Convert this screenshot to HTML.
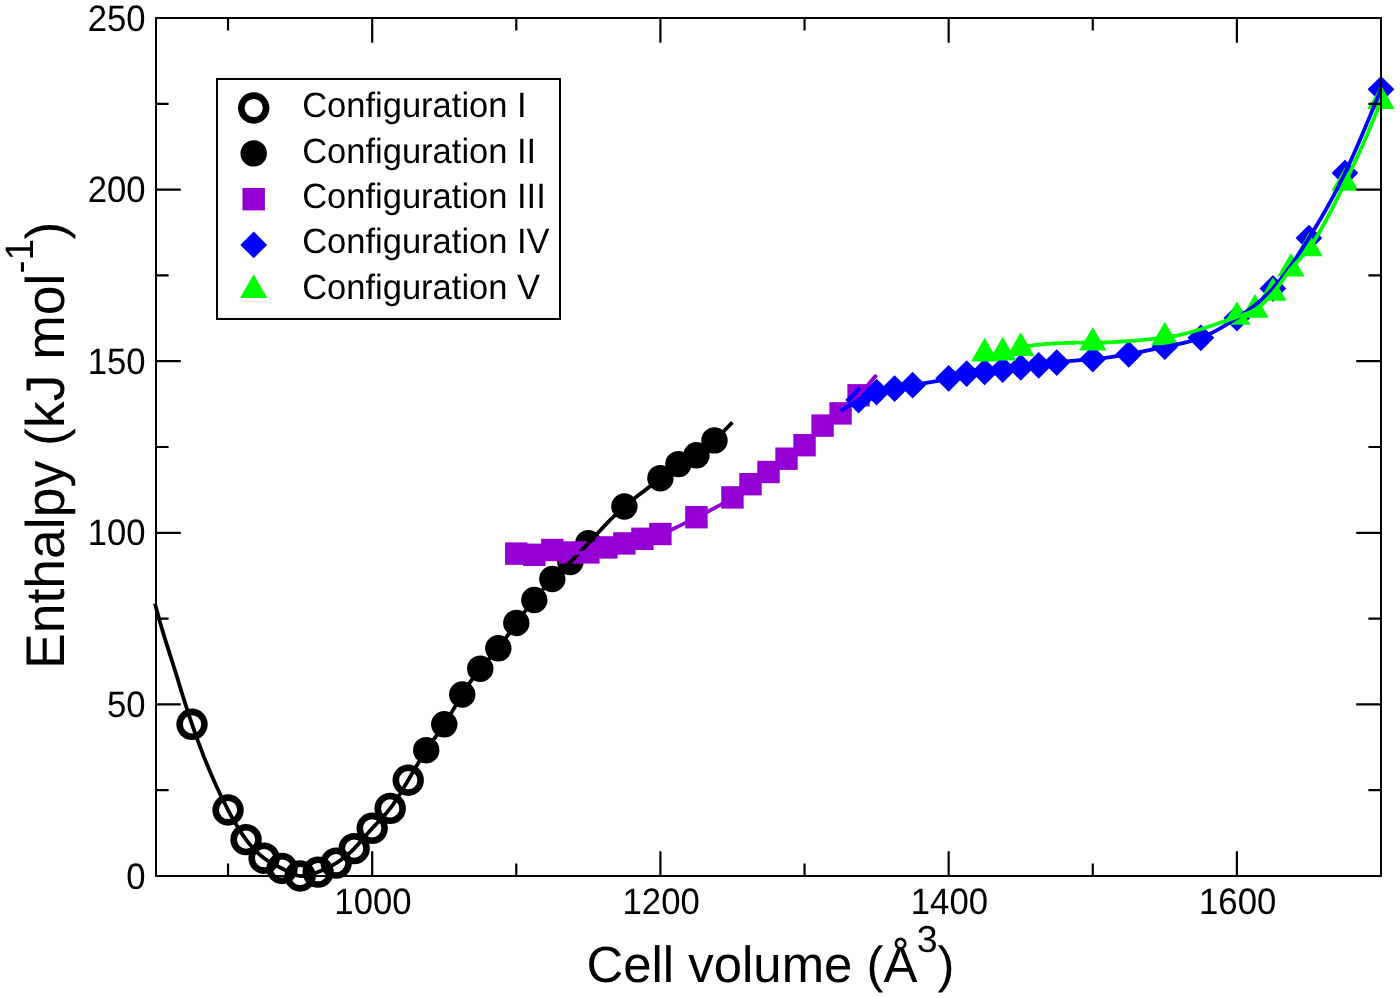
<!DOCTYPE html>
<html lang="en">
<head>
<meta charset="utf-8">
<title>Enthalpy vs cell volume</title>
<style>
html,body{margin:0;padding:0;background:#fff;}
body{width:1400px;height:998px;overflow:hidden;}
svg{display:block;will-change:transform;}
svg text{text-rendering:geometricPrecision;}
</style>
</head>
<body>
<svg width="1400" height="998" viewBox="0 0 1400 998" role="img" aria-label="Enthalpy versus cell volume for configurations I to V">
<rect width="1400" height="998" fill="#fff"/>
<g id="s1" fill="none" stroke="#000" stroke-width="6.6">
<circle cx="192.03" cy="724.3" r="12.4"/>
<circle cx="228.06" cy="810" r="12.4"/>
<circle cx="246.07" cy="839.6" r="12.4"/>
<circle cx="264.09" cy="858.2" r="12.4"/>
<circle cx="282.1" cy="868.5" r="12.4"/>
<circle cx="300.12" cy="876" r="12.4"/>
<circle cx="318.13" cy="872.1" r="12.4"/>
<circle cx="336.15" cy="863.1" r="12.4"/>
<circle cx="354.16" cy="848.6" r="12.4"/>
<circle cx="372.18" cy="828.3" r="12.4"/>
<circle cx="390.19" cy="808.4" r="12.4"/>
<circle cx="408.21" cy="780.2" r="12.4"/>
</g>
<g id="s2" fill="#000">
<circle cx="426.22" cy="750.2" r="13.2"/>
<circle cx="444.24" cy="724.3" r="13.2"/>
<circle cx="462.25" cy="694.5" r="13.2"/>
<circle cx="480.26" cy="668.7" r="13.2"/>
<circle cx="498.28" cy="648.3" r="13.2"/>
<circle cx="516.29" cy="623" r="13.2"/>
<circle cx="534.31" cy="600" r="13.2"/>
<circle cx="552.32" cy="579" r="13.2"/>
<circle cx="570.34" cy="562" r="13.2"/>
<circle cx="588.35" cy="543.2" r="13.2"/>
<circle cx="624.38" cy="506.5" r="13.2"/>
<circle cx="660.41" cy="478.2" r="13.2"/>
<circle cx="678.43" cy="464.1" r="13.2"/>
<circle cx="696.44" cy="455.3" r="13.2"/>
<circle cx="714.46" cy="440.4" r="13.2"/>
</g>
<g id="s3" fill="#9400d3">
<rect x="505.09" y="542.4" width="22.4" height="22.4"/>
<rect x="523.11" y="543.6" width="22.4" height="22.4"/>
<rect x="541.12" y="538.8" width="22.4" height="22.4"/>
<rect x="559.14" y="541.3" width="22.4" height="22.4"/>
<rect x="577.15" y="541.2" width="22.4" height="22.4"/>
<rect x="595.17" y="536.2" width="22.4" height="22.4"/>
<rect x="613.18" y="532.2" width="22.4" height="22.4"/>
<rect x="631.2" y="527.6" width="22.4" height="22.4"/>
<rect x="649.21" y="522.8" width="22.4" height="22.4"/>
<rect x="685.24" y="506" width="22.4" height="22.4"/>
<rect x="721.27" y="486.2" width="22.4" height="22.4"/>
<rect x="739.29" y="473" width="22.4" height="22.4"/>
<rect x="757.3" y="460.8" width="22.4" height="22.4"/>
<rect x="775.31" y="447.5" width="22.4" height="22.4"/>
<rect x="793.33" y="434" width="22.4" height="22.4"/>
<rect x="811.34" y="414.4" width="22.4" height="22.4"/>
<rect x="829.36" y="402.2" width="22.4" height="22.4"/>
<rect x="847.37" y="384.1" width="22.4" height="22.4"/>
</g>
<g id="s4" fill="#00f">
<path d="M845.17 400L858.57 386.6L871.97 400L858.57 413.4Z"/>
<path d="M863.19 392.1L876.59 378.7L889.99 392.1L876.59 405.5Z"/>
<path d="M881.2 388.6L894.6 375.2L908 388.6L894.6 402Z"/>
<path d="M899.22 385.2L912.62 371.8L926.02 385.2L912.62 398.6Z"/>
<path d="M935.25 378.3L948.65 364.9L962.05 378.3L948.65 391.7Z"/>
<path d="M953.26 373.6L966.66 360.2L980.06 373.6L966.66 387Z"/>
<path d="M971.28 371.9L984.68 358.5L998.08 371.9L984.68 385.3Z"/>
<path d="M989.29 369.6L1002.69 356.2L1016.09 369.6L1002.69 383Z"/>
<path d="M1007.31 367.4L1020.71 354L1034.11 367.4L1020.71 380.8Z"/>
<path d="M1025.32 365.3L1038.72 351.9L1052.12 365.3L1038.72 378.7Z"/>
<path d="M1043.34 362.6L1056.74 349.2L1070.14 362.6L1056.74 376Z"/>
<path d="M1079.36 359L1092.76 345.6L1106.16 359L1092.76 372.4Z"/>
<path d="M1115.39 354.3L1128.79 340.9L1142.19 354.3L1128.79 367.7Z"/>
<path d="M1151.42 346.7L1164.82 333.3L1178.22 346.7L1164.82 360.1Z"/>
<path d="M1187.45 337.8L1200.85 324.4L1214.25 337.8L1200.85 351.2Z"/>
<path d="M1223.48 318.1L1236.88 304.7L1250.28 318.1L1236.88 331.5Z"/>
<path d="M1259.51 288.5L1272.91 275.1L1286.31 288.5L1272.91 301.9Z"/>
<path d="M1295.54 238.1L1308.94 224.7L1322.34 238.1L1308.94 251.5Z"/>
<path d="M1331.57 173.1L1344.97 159.7L1358.37 173.1L1344.97 186.5Z"/>
<path d="M1367.6 89.3L1381 75.9L1394.4 89.3L1381 102.7Z"/>
</g>
<g id="s5" fill="#0f0">
<path d="M984.68 337.87L970.98 361.47L998.38 361.47Z"/>
<path d="M1002.69 336.87L988.99 360.47L1016.39 360.47Z"/>
<path d="M1020.71 332.37L1007.01 355.97L1034.41 355.97Z"/>
<path d="M1092.76 326.97L1079.06 350.57L1106.46 350.57Z"/>
<path d="M1164.82 321.77L1151.12 345.37L1178.52 345.37Z"/>
<path d="M1236.88 301.17L1223.18 324.77L1250.58 324.77Z"/>
<path d="M1254.9 294.07L1241.2 317.67L1268.6 317.67Z"/>
<path d="M1272.91 277.27L1259.21 300.87L1286.61 300.87Z"/>
<path d="M1290.93 252.97L1277.23 276.57L1304.63 276.57Z"/>
<path d="M1308.94 232.57L1295.24 256.17L1322.64 256.17Z"/>
<path d="M1344.97 167.17L1331.27 190.77L1358.67 190.77Z"/>
<path d="M1381 85.37L1367.3 108.97L1394.7 108.97Z"/>
</g>
<g id="fits" fill="none" stroke-width="3.8" stroke-linejoin="round">
<path stroke="#000" d="M154.9 603.6 L156.12 608.03 L157.33 612.45 L158.55 616.83 L159.77 621.16 L160.98 625.42 L162.2 629.6 L164.1 635.94 L166 642.09 L167.9 648.11 L169.8 654.06 L171.7 660.01 L173.6 666 L175.45 671.93 L177.3 677.92 L179.15 683.96 L181 689.99 L182.85 695.98 L184.7 701.9 L185.92 705.75 L187.14 709.56 L188.36 713.32 L189.59 717.03 L190.81 720.69 L192.03 724.3 L198.03 741.3 L204.04 757.12 L210.04 771.83 L216.05 785.5 L222.05 798.2 L228.06 810 L231.06 815.58 L234.06 820.93 L237.07 826.02 L240.07 830.85 L243.07 835.38 L246.07 839.6 L249.08 843.49 L252.08 847.05 L255.08 850.29 L258.08 853.22 L261.09 855.85 L264.09 858.2 L267.09 860.27 L270.09 862.13 L273.1 863.82 L276.1 865.4 L279.1 866.94 L282.1 868.5 L285.11 870.1 L288.11 871.69 L291.11 873.16 L294.11 874.44 L297.12 875.41 L300.12 876 L303.12 876.14 L306.12 875.86 L309.12 875.25 L312.13 874.37 L315.13 873.3 L318.13 872.1 L321.13 870.83 L324.14 869.49 L327.14 868.07 L330.14 866.54 L333.14 864.89 L336.15 863.1 L339.15 861.16 L342.15 859.05 L345.15 856.75 L348.16 854.25 L351.16 851.54 L354.16 848.6 L357.16 845.42 L360.17 842.07 L363.17 838.62 L366.17 835.12 L369.17 831.66 L372.18 828.3 L375.18 825.09 L378.18 821.96 L381.18 818.81 L384.19 815.57 L387.19 812.13 L390.19 808.4 L393.19 804.32 L396.2 799.92 L399.2 795.25 L402.2 790.37 L405.2 785.33 L408.21 780.2 L411.21 775.02 L414.21 769.85 L417.21 764.74 L420.22 759.72 L423.22 754.86 L426.22 750.2 L429.22 745.76 L432.23 741.49 L435.23 737.29 L438.23 733.08 L441.23 728.78 L444.24 724.3 L447.24 719.58 L450.24 714.66 L453.24 709.62 L456.25 704.53 L459.25 699.47 L462.25 694.5 L465.25 689.69 L468.25 685.06 L471.26 680.63 L474.26 676.42 L477.26 672.44 L480.26 668.7 L483.27 665.21 L486.27 661.88 L489.27 658.62 L492.27 655.33 L495.28 651.93 L498.28 648.3 L501.28 644.39 L504.28 640.25 L507.29 635.96 L510.29 631.6 L513.29 627.25 L516.29 623 L519.3 618.91 L522.3 614.96 L525.3 611.13 L528.3 607.38 L531.31 603.68 L534.31 600 L537.31 596.32 L540.31 592.67 L543.32 589.07 L546.32 585.57 L549.32 582.2 L552.32 579 L555.33 575.98 L558.33 573.11 L561.33 570.33 L564.33 567.59 L567.34 564.83 L570.34 562 L573.34 559.06 L576.34 556.02 L579.35 552.89 L582.35 549.7 L585.35 546.46 L588.35 543.2 L594.36 536.68 L600.36 530.21 L606.37 523.89 L612.37 517.77 L618.38 511.95 L624.38 506.5 L630.39 501.45 L636.39 496.72 L642.4 492.16 L648.4 487.64 L654.41 483.03 L660.41 478.2 L663.41 475.67 L666.42 473.12 L669.42 470.62 L672.42 468.24 L675.42 466.04 L678.43 464.1 L681.43 462.45 L684.43 461.02 L687.43 459.7 L690.44 458.37 L693.44 456.94 L696.44 455.3 L699.44 453.36 L702.45 451.14 L705.45 448.69 L708.45 446.05 L711.45 443.28 L714.46 440.4 L717.45 437.48 L720.44 434.51 L723.43 431.52 L726.42 428.49 L729.41 425.45 L732.4 422.4"/>
<path stroke="#9400d3" d="M516.29 553.6 L519.3 554.15 L522.3 554.64 L525.3 555.01 L528.3 555.2 L531.31 555.15 L534.31 554.8 L537.31 554.12 L540.31 553.22 L543.32 552.23 L546.32 551.27 L549.32 550.48 L552.32 550 L555.33 549.92 L558.33 550.17 L561.33 550.65 L564.33 551.27 L567.34 551.92 L570.34 552.5 L573.34 552.93 L576.34 553.18 L579.35 553.26 L582.35 553.15 L585.35 552.87 L588.35 552.4 L591.36 551.75 L594.36 550.97 L597.36 550.09 L600.36 549.17 L603.37 548.26 L606.37 547.4 L609.37 546.63 L612.37 545.94 L615.38 545.3 L618.38 544.68 L621.38 544.06 L624.38 543.4 L627.38 542.69 L630.39 541.94 L633.39 541.15 L636.39 540.36 L639.39 539.57 L642.4 538.8 L645.4 538.06 L648.4 537.33 L651.4 536.58 L654.41 535.79 L657.41 534.94 L660.41 534 L666.42 531.8 L672.42 529.23 L678.43 526.39 L684.43 523.38 L690.44 520.28 L696.44 517.2 L702.45 514.19 L708.45 511.19 L714.46 508.11 L720.46 504.85 L726.47 501.31 L732.47 497.4 L735.47 495.28 L738.48 493.09 L741.48 490.85 L744.48 488.59 L747.48 486.37 L750.49 484.2 L753.49 482.12 L756.49 480.1 L759.49 478.11 L762.5 476.12 L765.5 474.09 L768.5 472 L771.5 469.82 L774.5 467.58 L777.51 465.31 L780.51 463.05 L783.51 460.83 L786.51 458.7 L789.52 456.67 L792.52 454.66 L795.52 452.6 L798.52 450.4 L801.53 447.96 L804.53 445.2 L807.53 442.07 L810.53 438.68 L813.54 435.19 L816.54 431.74 L819.54 428.5 L822.54 425.6 L825.55 423.16 L828.55 421.08 L831.55 419.2 L834.55 417.4 L837.56 415.51 L840.56 413.4 L843.56 410.95 L846.56 408.19 L849.57 405.18 L852.57 401.99 L855.57 398.68 L858.57 395.3 L861.58 391.91 L864.58 388.53 L867.59 385.15 L870.59 381.76 L873.6 378.38 L876.6 375"/>
<path stroke="#00f" d="M840.8 411.1 L843.76 409.16 L846.72 407.23 L849.69 405.34 L852.65 403.49 L855.61 401.7 L858.57 400 L861.58 398.37 L864.58 396.85 L867.58 395.45 L870.58 394.18 L873.59 393.06 L876.59 392.1 L879.59 391.3 L882.59 390.64 L885.6 390.07 L888.6 389.57 L891.6 389.09 L894.6 388.6 L897.61 388.07 L900.61 387.52 L903.61 386.94 L906.61 386.35 L909.62 385.77 L912.62 385.2 L918.62 384.14 L924.63 383.14 L930.63 382.12 L936.64 381.02 L942.64 379.77 L948.65 378.3 L951.65 377.47 L954.65 376.61 L957.65 375.75 L960.66 374.94 L963.66 374.21 L966.66 373.6 L969.66 373.14 L972.67 372.8 L975.67 372.55 L978.67 372.34 L981.67 372.13 L984.68 371.9 L987.68 371.6 L990.68 371.25 L993.68 370.86 L996.69 370.45 L999.69 370.02 L1002.69 369.6 L1005.69 369.2 L1008.7 368.81 L1011.7 368.44 L1014.7 368.08 L1017.7 367.74 L1020.71 367.4 L1023.71 367.07 L1026.71 366.75 L1029.71 366.41 L1032.72 366.06 L1035.72 365.7 L1038.72 365.3 L1041.72 364.87 L1044.73 364.42 L1047.73 363.95 L1050.73 363.49 L1053.73 363.03 L1056.74 362.6 L1062.74 361.83 L1068.75 361.17 L1074.75 360.59 L1080.75 360.06 L1086.76 359.54 L1092.76 359 L1098.77 358.42 L1104.77 357.77 L1110.78 357.05 L1116.78 356.24 L1122.79 355.33 L1128.79 354.3 L1134.8 353.15 L1140.8 351.9 L1146.81 350.59 L1152.81 349.27 L1158.82 347.96 L1164.82 346.7 L1170.83 345.51 L1176.83 344.33 L1182.84 343.05 L1188.84 341.6 L1194.85 339.88 L1200.85 337.8 L1206.86 335.3 L1212.86 332.41 L1218.87 329.19 L1224.87 325.69 L1230.88 321.98 L1236.88 318.1 L1242.89 314.09 L1248.89 309.86 L1254.9 305.3 L1260.9 300.29 L1266.91 294.73 L1272.91 288.5 L1278.92 281.52 L1284.92 273.85 L1290.93 265.58 L1296.93 256.81 L1302.94 247.61 L1308.94 238.1 L1314.95 228.33 L1320.95 218.24 L1326.96 207.75 L1332.96 196.79 L1338.97 185.27 L1344.97 173.1 L1350.98 160.24 L1356.98 146.78 L1362.99 132.83 L1368.99 118.52 L1375 103.97 L1381 89.3"/>
<path stroke="#0f0" d="M1020.71 347.5 L1022.05 347.22 L1023.4 346.95 L1024.75 346.69 L1026.1 346.45 L1027.45 346.22 L1028.8 346 L1030.67 345.72 L1032.53 345.45 L1034.4 345.19 L1036.27 344.96 L1038.13 344.74 L1040 344.55 L1042.33 344.33 L1044.67 344.14 L1047 343.95 L1049.33 343.79 L1051.67 343.64 L1054 343.5 L1056.33 343.38 L1058.67 343.26 L1061 343.15 L1063.33 343.05 L1065.67 342.97 L1068 342.9 L1070.83 342.83 L1073.67 342.76 L1076.5 342.7 L1079.33 342.65 L1082.17 342.61 L1085 342.6 L1086.29 342.61 L1087.59 342.63 L1088.88 342.65 L1090.18 342.67 L1091.47 342.69 L1092.76 342.7 L1104.77 342.51 L1116.78 341.97 L1128.79 341.14 L1140.8 340.08 L1152.81 338.85 L1164.82 337.5 L1176.83 335.58 L1188.84 332.76 L1200.85 329.25 L1212.86 325.28 L1224.87 321.09 L1236.88 316.9 L1239.88 315.89 L1242.89 314.89 L1245.89 313.83 L1248.89 312.66 L1251.89 311.34 L1254.9 309.8 L1257.9 307.86 L1260.9 305.44 L1263.9 302.64 L1266.91 299.56 L1269.91 296.31 L1272.91 293 L1275.91 289.41 L1278.92 285.4 L1281.92 281.14 L1284.92 276.81 L1287.92 272.61 L1290.93 268.7 L1293.93 265.19 L1296.93 261.94 L1299.93 258.79 L1302.94 255.57 L1305.94 252.13 L1308.94 248.3 L1314.95 239.47 L1320.95 229.47 L1326.96 218.56 L1332.96 207 L1338.97 195.02 L1344.97 182.9 L1350.98 170.51 L1356.98 157.59 L1362.99 144.16 L1368.99 130.26 L1375 115.89 L1381 101.1"/>
</g>
<rect x="574" y="551" width="11" height="4" fill="#9400d3"/>
<g id="axes" fill="none" stroke="#000" stroke-width="2">
<rect x="156" y="18" width="1225" height="858"/>
<path stroke-width="2.2" d="M372.18 876v-24.8M372.18 18v24.8M660.41 876v-24.8M660.41 18v24.8M948.65 876v-24.8M948.65 18v24.8M1236.88 876v-24.8M1236.88 18v24.8M228.06 876v-12.6M228.06 18v12.6M516.29 876v-12.6M516.29 18v12.6M804.53 876v-12.6M804.53 18v12.6M1092.76 876v-12.6M1092.76 18v12.6M156 704.4h24.8M1381 704.4h-24.8M156 532.8h24.8M1381 532.8h-24.8M156 361.2h24.8M1381 361.2h-24.8M156 189.6h24.8M1381 189.6h-24.8M156 790.2h12.6M1381 790.2h-12.6M156 618.6h12.6M1381 618.6h-12.6M156 447h12.6M1381 447h-12.6M156 275.4h12.6M1381 275.4h-12.6M156 103.8h12.6M1381 103.8h-12.6"/>
</g>
<g id="ticklabels" font-family="'Liberation Sans', sans-serif" fill="#000">
<text transform="translate(372.93 914.3) scale(1 1.06)" font-size="34.7" text-anchor="middle">1000</text>
<text transform="translate(661.16 914.3) scale(1 1.06)" font-size="34.7" text-anchor="middle">1200</text>
<text transform="translate(949.4 914.3) scale(1 1.06)" font-size="34.7" text-anchor="middle">1400</text>
<text transform="translate(1237.63 914.3) scale(1 1.06)" font-size="34.7" text-anchor="middle">1600</text>
<text transform="translate(145.5 888.65) scale(1 1.06)" font-size="34.7" text-anchor="end">0</text>
<text transform="translate(145.5 717.05) scale(1 1.06)" font-size="34.7" text-anchor="end">50</text>
<text transform="translate(145.5 545.45) scale(1 1.06)" font-size="34.7" text-anchor="end">100</text>
<text transform="translate(145.5 373.85) scale(1 1.06)" font-size="34.7" text-anchor="end">150</text>
<text transform="translate(145.5 202.25) scale(1 1.06)" font-size="34.7" text-anchor="end">200</text>
<text transform="translate(145.5 30.65) scale(1 1.06)" font-size="34.7" text-anchor="end">250</text>
</g>
<g id="legend">
<rect x="217" y="79" width="343" height="240" fill="#fff" stroke="#000" stroke-width="2"/>
<circle cx="253.7" cy="108" r="12.4" fill="none" stroke="#000" stroke-width="6.6"/>
<circle cx="253.7" cy="153.4" r="13.2" fill="#000"/>
<rect x="242.5" y="188" width="22.4" height="22.4" fill="#9400d3"/>
<path fill="#00f" d="M240.3 244.9L253.7 231.5L267.1 244.9L253.7 258.3Z"/>
<path fill="#0f0" d="M253.7 274.37L240 297.97L267.4 297.97Z"/>
<g font-family="'Liberation Sans', sans-serif" fill="#000">
<text transform="translate(302.2 117.2) scale(1 1.02)" font-size="34.5" text-anchor="start">Configuration I</text>
<text transform="translate(302.2 162.6) scale(1 1.02)" font-size="34.5" text-anchor="start">Configuration II</text>
<text transform="translate(302.2 208) scale(1 1.02)" font-size="34.5" text-anchor="start">Configuration III</text>
<text transform="translate(302.2 253.4) scale(1 1.02)" font-size="34.5" text-anchor="start">Configuration IV</text>
<text transform="translate(302.2 298.8) scale(1 1.02)" font-size="34.5" text-anchor="start">Configuration V</text>
</g></g>
<g id="axislabels" font-family="'Liberation Sans', sans-serif" fill="#000">
<text transform="translate(586.5 982.3) scale(1 1)" font-size="50.9" text-anchor="start">Cell volume (Å<tspan dx="-0.7" dy="-30.3" font-size="37.6">3</tspan><tspan dy="30.3">)</tspan></text>
<text transform="translate(64.1 669) rotate(-90) scale(1 1.02)" font-size="53.5" text-anchor="start">Enthalpy (kJ mol<tspan dy="-30.9" font-size="39">-1</tspan><tspan dx="-0.7" dy="30.9">)</tspan></text>
</g>
</svg>
</body>
</html>
